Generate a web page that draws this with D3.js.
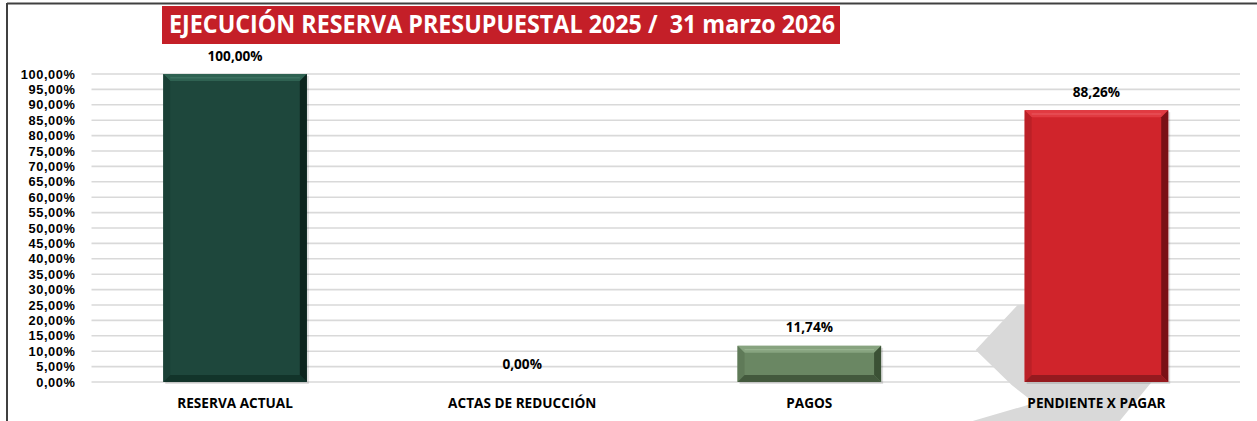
<!DOCTYPE html>
<html>
<head>
<meta charset="utf-8">
<script src="https://cdn.jsdelivr.net/npm/d3@7"></script>
<style>
  body { margin: 0; background: #fff; }
  svg { display: block; font-family: "Open Sans", "Noto Sans", sans-serif; }
</style>
</head>
<body>
<div id="chart"></div>
<script>
// data
var categories = ["RESERVA ACTUAL", "ACTAS DE REDUCCIÓN", "PAGOS", "PENDIENTE X PAGAR"];
var values = [100, 0, 11.74, 88.26];
var yTicks = [0, 5, 10, 15, 20, 25, 30, 35, 40, 45, 50, 55, 60, 65, 70, 75, 80, 85, 90, 95, 100];
var title = "EJECUCIÓN RESERVA PRESUPUESTAL 2025 /  31 marzo 2026";

// bar colours: main, top, left, right, bottom
var palette = [
    { main: "#1e473c", top: "#2f6252", left: "#1a4036", right: "#0d251e", bottom: "#12342a", hi: "#4d8472" },
    { main: "#8c8c8c", top: "#aaa", left: "#888", right: "#555", bottom: "#666", hi: "#ccc" },
    { main: "#6a8763", top: "#87a37f", left: "#5f7a58", right: "#3b5135", bottom: "#43593d", hi: "#a5bf9d" },
    { main: "#d0242b", top: "#e13a41", left: "#bb2027", right: "#7a1015", bottom: "#951a1f", hi: "#f06a70" }
];

var width = 1257, height = 421;
var margin = { top: 74, right: 17, bottom: 39, left: 91.5 };
var labelSize = "13.6px";

var locale = d3.formatLocale({ decimal: ",", thousands: ".", grouping: [3], currency: ["", ""] });
var fmt = locale.format(".2%");

var svg = d3.select("#chart")
    .append("svg")
    .attr("width", width)
    .attr("height", height);

var x = d3.scaleBand()
    .domain(categories)
    .range([margin.left, width - margin.right])
    .paddingInner(0.5)
    .paddingOuter(0.25);

var y = d3.scaleLinear()
    .domain([0, 100])
    .range([height - margin.bottom, margin.top]);

// outer frame (top + left edges only visible)
svg.append("line")
    .attr("x1", 7).attr("x2", width)
    .attr("y1", 3.5).attr("y2", 3.5)
    .attr("stroke", "#404040").attr("stroke-width", 2);
svg.append("line")
    .attr("x1", 7).attr("x2", 7)
    .attr("y1", 3).attr("y2", height)
    .attr("stroke", "#404040").attr("stroke-width", 2);

// grey arrow watermark behind last bar
var bx = x(categories[3]), y0 = y(0);
var arrow = [
    [bx - 7, y0 - 77], [bx - 49, y0 - 32], [bx - 13, y0 + 3], [bx + 10, y0 + 21],
    [bx - 52, height], [bx + 95, height], [bx + 127, y0], [bx + 125, y0 - 77]
];
svg.append("polygon")
    .attr("points", arrow.map(function (p) { return p.join(","); }).join(" "))
    .attr("fill", "#d9d9d9");

// gridlines
svg.append("g")
    .selectAll("line")
    .data(yTicks)
    .enter().append("line")
    .attr("x1", margin.left)
    .attr("x2", width - margin.right)
    .attr("y1", function (d) { return y(d); })
    .attr("y2", function (d) { return y(d); })
    .attr("stroke", "#d9d9d9")
    .attr("stroke-width", 1.6);

// y axis labels
var yAxis = svg.append("g")
    .attr("transform", "translate(" + (margin.left - 16) + ",0)")
    .call(d3.axisLeft(y).tickValues(yTicks).tickSize(0).tickFormat(function (d) { return fmt(d / 100); }));
yAxis.select(".domain").remove();
yAxis.selectAll("text")
    .attr("x", 0)
    .style("font-family", "'Liberation Sans', Arial, sans-serif")
    .style("font-size", "12.8px")
    .style("letter-spacing", "0.6px")
    .style("font-weight", "700")
    .attr("fill", "#000");

// bars with bevel
var bev = 7;
var bars = svg.append("g")
    .selectAll("g")
    .data(values)
    .enter().append("g")
    .filter(function (d) { return d > 0; });

bars.each(function (d) {
    var idx = values.indexOf(d);
    var c = palette[idx];
    var g = d3.select(this);
    var x0 = x(categories[idx]), x1 = x0 + x.bandwidth();
    var t = y(d), b = y(0);
    var e = Math.min(bev, (b - t) / 2);
    // shadow
    g.append("rect")
        .attr("x", x0 + 2).attr("y", t + 2)
        .attr("width", x1 - x0).attr("height", b - t)
        .attr("fill", "#000").attr("opacity", 0.12);
    g.append("rect")
        .attr("x", x0).attr("y", t)
        .attr("width", x1 - x0).attr("height", b - t)
        .attr("fill", c.main);
    var poly = function (pts, fill) {
        g.append("polygon")
            .attr("points", pts.map(function (p) { return p.join(","); }).join(" "))
            .attr("fill", fill);
    };
    poly([[x0, t], [x1, t], [x1 - e, t + e], [x0 + e, t + e]], c.top);
    poly([[x0, t], [x0 + e, t + e], [x0 + e, b - e], [x0, b]], c.left);
    poly([[x1, t], [x1, b], [x1 - e, b - e], [x1 - e, t + e]], c.right);
    poly([[x0, b], [x0 + e, b - e], [x1 - e, b - e], [x1, b]], c.bottom);
    g.append("line")
        .attr("x1", x0 + e).attr("x2", x1 - e)
        .attr("y1", t + e * 0.55).attr("y2", t + e * 0.55)
        .attr("stroke", c.hi).attr("stroke-width", 1).attr("opacity", 0.7);
});

// value labels
svg.append("g")
    .selectAll("text")
    .data(values)
    .enter().append("text")
    .attr("x", function (d, i) { return x(categories[i]) + x.bandwidth() / 2; })
    .attr("y", function (d) { return y(d) - 17; })
    .attr("text-anchor", "middle")
    .attr("dominant-baseline", "middle")
    .style("font-size", labelSize)
    .style("font-weight", "700")
    .attr("fill", "#000")
    .text(function (d) { return fmt(d / 100); });

// category labels
svg.append("g")
    .selectAll("text")
    .data(categories)
    .enter().append("text")
    .attr("x", function (d) { return x(d) + x.bandwidth() / 2; })
    .attr("y", height - 17)
    .attr("text-anchor", "middle")
    .attr("dominant-baseline", "middle")
    .style("font-size", labelSize)
    .style("font-weight", "700")
    .attr("fill", "#000")
    .text(function (d) { return d; });

// title banner
svg.append("rect")
    .attr("x", 162).attr("y", 6)
    .attr("width", 678).attr("height", 38)
    .attr("fill", "#c41f28");
svg.append("text")
    .attr("x", 169)
    .attr("y", 26)
    .attr("dominant-baseline", "middle")
    .attr("textLength", 666)
    .attr("lengthAdjust", "spacingAndGlyphs")
    .style("font-size", "25px")
    .style("font-weight", "700")
    .attr("fill", "#fff")
    .attr("xml:space", "preserve")
    .text(title);
</script>
</body>
</html>
